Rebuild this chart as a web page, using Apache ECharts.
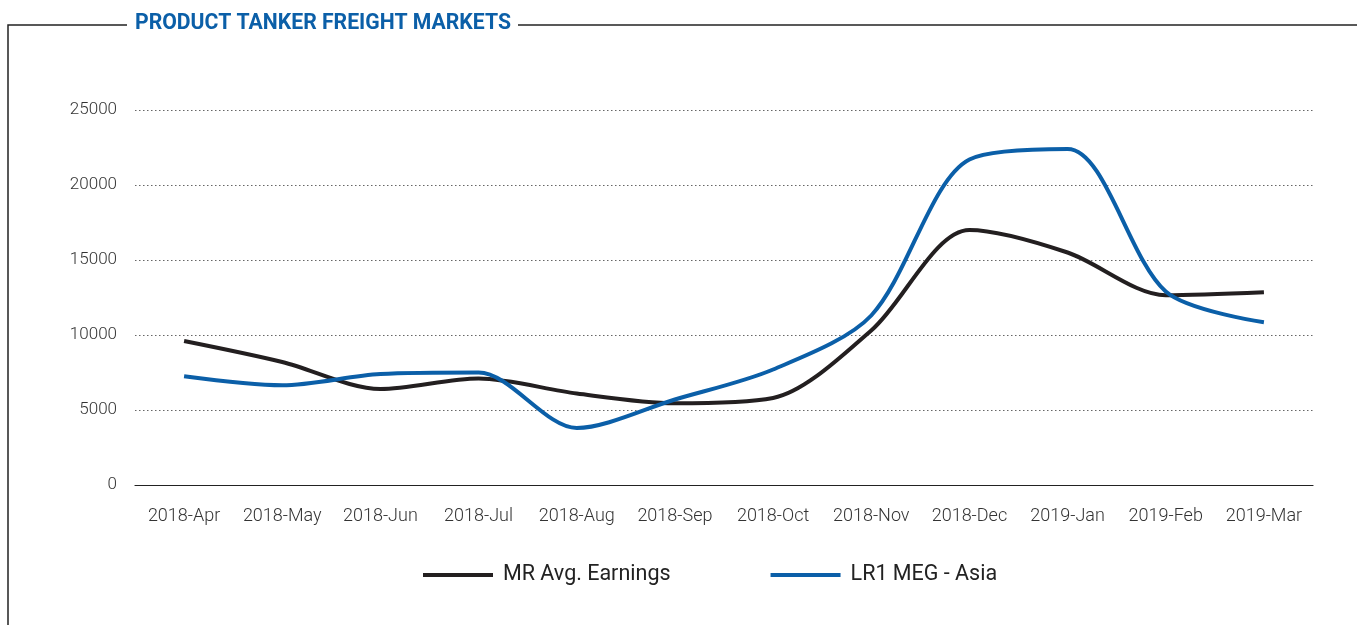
<!DOCTYPE html>
<html>
<head>
<meta charset="utf-8">
<script src="https://cdn.jsdelivr.net/npm/echarts@6/dist/echarts.min.js"></script>
<style>
  html, body { margin: 0; padding: 0; background: #fff; }
  #chart { width: 1357px; height: 625px; }
</style>
</head>
<body>
<div id="chart"></div>
<script>
// months on the x axis
const months = ['2018-Apr', '2018-May', '2018-Jun', '2018-Jul', '2018-Aug', '2018-Sep',
                '2018-Oct', '2018-Nov', '2018-Dec', '2019-Jan', '2019-Feb', '2019-Mar'];
// MR average earnings
const mrEarnings = [9600, 8200, 6400, 7100, 6100, 5450, 5800, 10300, 17000, 15500, 12650, 12850];
// LR1 MEG - Asia
const lr1MegAsia = [7250, 6650, 7400, 7500, 3800, 5700, 7700, 11300, 21700, 22400, 12900, 10850];

const BLUE = '#0b5fa8';
const DARK = '#231f20';

const chart = echarts.init(document.getElementById('chart'));
chart.setOption({
    animation: false,
    grid: { left: 135, right: 44, top: 110, bottom: 140 },
    graphic: [
        // panel frame, broken where the title sits
        { type: 'polyline', shape: { points: [[8, 625], [8, 25], [127, 25]] }, style: { stroke: '#222', lineWidth: 1.5, fill: null } },
        { type: 'line', shape: { x1: 518, y1: 25, x2: 1357, y2: 25 }, style: { stroke: '#222', lineWidth: 1.5 } },
        { type: 'text', x: 135, y: 24,
          style: { text: 'PRODUCT TANKER FREIGHT MARKETS', fill: BLUE, font: 'bold 21.2px Roboto', verticalAlign: 'middle' } }
    ],
    legend: {
        top: 564, left: 423, padding: 0, itemGap: 100, itemWidth: 70, itemHeight: 4,
        icon: 'rect',
        textStyle: { fontFamily: 'Roboto', fontSize: 21.5, color: '#222', padding: [0, 0, 0, 5] },
        data: ['MR Avg. Earnings', 'LR1 MEG - Asia']
    },
    xAxis: {
        type: 'category', data: months, boundaryGap: true,
        axisLine: { lineStyle: { color: '#222', width: 1.2 } },
        axisTick: { alignWithLabel: true, length: 9, lineStyle: { color: '#222' } },
        axisLabel: { fontFamily: 'Roboto', fontSize: 18, fontWeight: 300, color: '#333', margin: 22, interval: 0 }
    },
    yAxis: {
        type: 'value', min: 0, max: 25000, interval: 5000,
        axisLine: { show: false }, axisTick: { show: false },
        axisLabel: { fontFamily: 'Roboto', fontSize: 17, fontWeight: 300, color: '#333', margin: 18,
                     formatter: v => String(v) },
        splitLine: { lineStyle: { color: '#666', type: [1.5, 2.5], width: 1 } }
    },
    series: [
        { name: 'MR Avg. Earnings', type: 'line', data: mrEarnings, smooth: 0.3, showSymbol: false,
          lineStyle: { color: DARK, width: 4 }, itemStyle: { color: DARK } },
        { name: 'LR1 MEG - Asia', type: 'line', data: lr1MegAsia, smooth: 0.3, showSymbol: false,
          lineStyle: { color: BLUE, width: 4 }, itemStyle: { color: BLUE } }
    ]
});
</script>
</body>
</html>
